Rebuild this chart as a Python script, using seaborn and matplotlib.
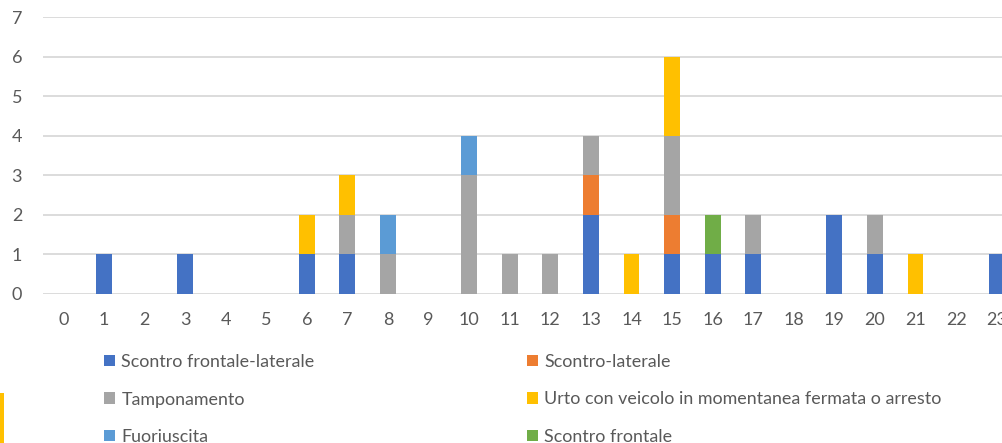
import numpy as np
import pandas as pd
import matplotlib
matplotlib.use("Agg")
import matplotlib.pyplot as plt
from matplotlib.patches import Patch, Rectangle
import seaborn as sns

hours = list(range(24))
series_names = [
    "Scontro frontale-laterale",
    "Scontro-laterale",
    "Tamponamento",
    "Urto con veicolo in momentanea fermata o arresto",
    "Fuoriuscita",
    "Scontro frontale",
]
frontale_laterale = [0, 1, 0, 1, 0, 0, 1, 1, 0, 0, 0, 0, 0, 2, 0, 1, 1, 1, 0, 2, 1, 0, 0, 1]
laterale          = [0, 0, 0, 0, 0, 0, 0, 0, 0, 0, 0, 0, 0, 1, 0, 1, 0, 0, 0, 0, 0, 0, 0, 0]
tamponamento      = [0, 0, 0, 0, 0, 0, 0, 1, 1, 0, 3, 1, 1, 1, 0, 2, 0, 1, 0, 0, 1, 0, 0, 0]
urto              = [0, 0, 0, 0, 0, 0, 1, 1, 0, 0, 0, 0, 0, 0, 1, 2, 0, 0, 0, 0, 0, 1, 0, 0]
fuoriuscita       = [0, 0, 0, 0, 0, 0, 0, 0, 1, 0, 1, 0, 0, 0, 0, 0, 0, 0, 0, 0, 0, 0, 0, 0]
frontale          = [0, 0, 0, 0, 0, 0, 0, 0, 0, 0, 0, 0, 0, 0, 0, 0, 1, 0, 0, 0, 0, 0, 0, 0]
series_values = [frontale_laterale, laterale, tamponamento, urto, fuoriuscita, frontale]
colors = ["#4472C4", "#ED7D31", "#A5A5A5", "#FFC000", "#5B9BD5", "#70AD47"]

sns.set_theme(style="white")
plt.rcParams["font.family"] = ["Lato", "DejaVu Sans"]
text_color = "#595959"
grid_color = "#D9D9D9"

fig = plt.figure(figsize=(10.02, 4.43), dpi=100)
ax = fig.add_axes([43 / 1002, (443 - 294) / 443, (1017 - 43) / 1002, (294 - 17) / 443])

cum = np.zeros(len(hours))
cums = []
for vals in series_values:
    cum = cum + np.array(vals)
    cums.append(cum.copy())

# draw from the full stack down so each lower layer overlays the upper ones
for i in range(len(series_values) - 1, -1, -1):
    d = pd.DataFrame({"hour": hours, "value": cums[i]})
    sns.barplot(data=d, x="hour", y="value", order=hours, color=colors[i],
                saturation=1, width=0.39, linewidth=0, ax=ax, errorbar=None)

ax.set_xlim(-0.5, 23.5)
ax.set_ylim(0, 7)
ax.set_yticks(range(0, 8))
ax.set_xlabel("")
ax.set_ylabel("")
ax.set_axisbelow(True)
ax.yaxis.grid(True, color=grid_color, linewidth=1.3)
ax.xaxis.grid(False)
for s in ax.spines.values():
    s.set_visible(False)
ax.tick_params(axis="both", length=0, colors=text_color, labelsize=13)
ax.tick_params(axis="y", pad=15)
ax.tick_params(axis="x", pad=13)

handles = [Patch(facecolor=c, edgecolor="none") for c in colors]
leg_kw = dict(frameon=False, fontsize=12.9, handlelength=0.62, handleheight=0.62,
              handletextpad=0.35, labelspacing=1.2, labelcolor=text_color,
              borderpad=0, borderaxespad=0, loc="upper left")
leg1 = fig.legend([handles[0], handles[2], handles[4]],
                  [series_names[0], series_names[2], series_names[4]],
                  bbox_to_anchor=(104 / 1002, 1 - 354 / 443), **leg_kw)
leg2 = fig.legend([handles[1], handles[3], handles[5]],
                  [series_names[1], series_names[3], series_names[5]],
                  bbox_to_anchor=(527 / 1002, 1 - 354 / 443), **leg_kw)

fig.patches.append(Rectangle((0, 0), 4 / 1002, (443 - 393) / 443,
                             transform=fig.transFigure, facecolor="#FFC000",
                             edgecolor="none"))

fig.savefig("out.png", dpi=100)
